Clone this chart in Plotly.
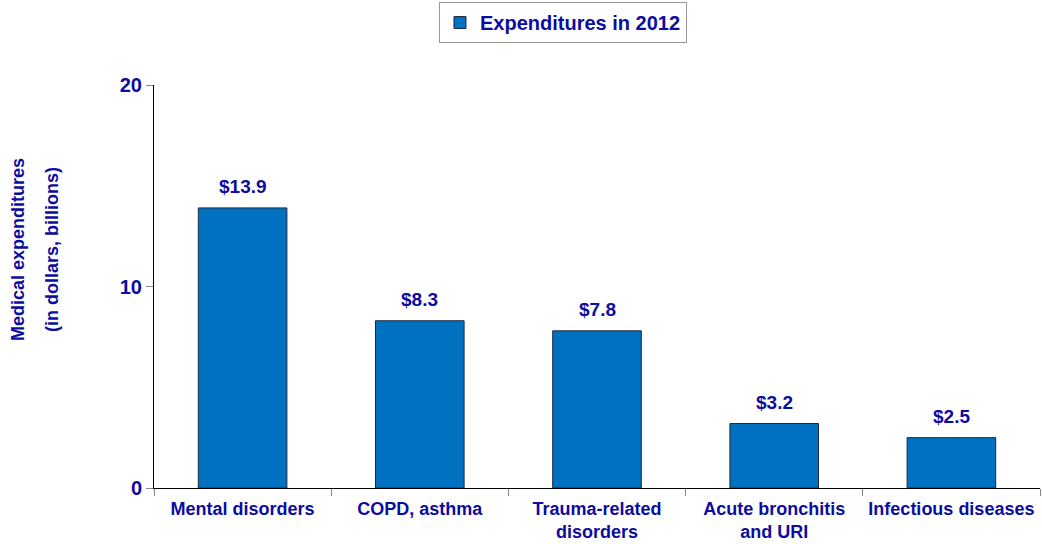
import plotly.graph_objects as go

categories = ["Mental disorders", "COPD, asthma", "Trauma-related<br>disorders",
              "Acute bronchitis<br>and URI", "Infectious diseases"]
values = [13.9, 8.3, 7.8, 3.2, 2.5]
labels = ["$13.9", "$8.3", "$7.8", "$3.2", "$2.5"]
series_name = "Expenditures in 2012"
y_ticks = [0, 10, 20]
y_title_lines = ["Medical expenditures", "(in dollars, billions)"]

TXT = "#0C0CA0"
FONT = "Liberation Sans, Arial, sans-serif"

fig = go.Figure()
fig.add_trace(go.Bar(
    x=categories, y=values, name=series_name,
    marker=dict(color="#0070C0", line=dict(color="#1a2a40", width=1)),
    width=0.5, showlegend=True,
))
for c, v, t in zip(categories, values, labels):
    fig.add_annotation(
        x=c, y=v, text=t, showarrow=False, yanchor="bottom", yshift=9,
        font=dict(family=FONT, size=19, color=TXT, weight="bold"),
    )

fig.update_layout(
    width=1042, height=544,
    margin=dict(l=154, r=2, t=85, b=56),
    paper_bgcolor="white", plot_bgcolor="white",
    font=dict(family=FONT, color=TXT, weight="bold"),
    showlegend=True,
    legend=dict(
        x=0.4616, y=1.155, xanchor="center", yanchor="middle",
        orientation="h", bordercolor="#999999", borderwidth=1,
        font=dict(family=FONT, size=20, color=TXT, weight="bold"),
        itemwidth=30,
    ),
)
fig.update_xaxes(
    showline=True, linecolor="black", linewidth=1,
    ticks="outside", tickson="boundaries", ticklen=7, tickcolor="#888888",
    tickfont=dict(family=FONT, size=18, color=TXT, weight="bold"),
    ticklabelstandoff=4, automargin=False,
    showgrid=False,
)
fig.update_yaxes(
    range=[0, 20], tickvals=y_ticks,
    showline=True, linecolor="black", linewidth=1,
    ticks="outside", ticklen=7, tickcolor="#888888",
    tickfont=dict(family=FONT, size=20, color=TXT, weight="bold"),
    showgrid=False, zeroline=False, automargin=False,
)
for xp, line in zip([18, 52], y_title_lines):
    fig.add_annotation(
        text=line,
        xref="paper", yref="paper", x=(xp - 154) / 886, y=(488 - 250) / 403,
        xanchor="center", yanchor="middle", textangle=-90, showarrow=False,
        font=dict(family=FONT, size=18, color=TXT, weight="bold"),
    )

fig.write_html("out.html")
